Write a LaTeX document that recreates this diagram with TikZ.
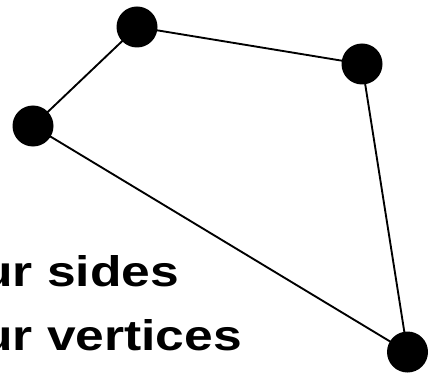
\documentclass[tikz,border=0pt]{standalone}
\usepackage{fontspec}
\setmainfont{Liberation Sans}
\usepackage{tikz}
\usepackage{tkz-euclide}

\begin{document}
\begin{tikzpicture}[x=0.03cm, y=-0.03cm,
    vertex/.style={fill=black},
    caption/.style={anchor=base west, inner sep=0pt, font=\fontsize{44}{50}\bfseries\selectfont}]
                \useasboundingbox (0,0) rectangle (433,373);
                \clip (0,0) rectangle (433,373);
                \tkzDefPoints{137/27/A, 362/64/B, 407.5/352/C, 33/126/D}
                \tkzDrawPolygon[black, line width=1.6pt](A,B,C,D)
                \foreach \p in {A,B,C,D} \fill[vertex] (\p) circle (20.5);
                \node[caption] (sides) at (-19,286) {\scalebox{1}[0.83]{ur sides}};
                \node[caption] (verts) at (-19,350) {\scalebox{1}[0.83]{ur vertices}};
            \end{tikzpicture}
\end{document}
